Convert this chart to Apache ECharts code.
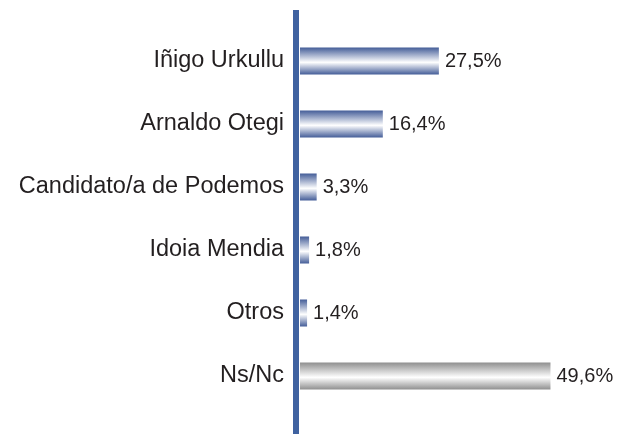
<!DOCTYPE html>
<html>
<head>
<meta charset="utf-8">
<script src="https://cdn.jsdelivr.net/npm/echarts@6/dist/echarts.min.js"></script>
<style>
  html, body { margin: 0; padding: 0; background: #fff; }
  #chart { width: 621px; height: 434px; }
</style>
</head>
<body>
<div id="chart"></div>
<script>
// Candidates, top to bottom, and their share (%)
const candidates = ['Iñigo Urkullu', 'Arnaldo Otegi', 'Candidato/a de Podemos', 'Idoia Mendia', 'Otros', 'Ns/Nc'];
const shares = [27.5, 16.4, 3.3, 1.8, 1.4, 49.6];
// Which rows are drawn in grey instead of blue
const greyRows = ['Ns/Nc'];

function tube(dark, light) {
  return new echarts.graphic.LinearGradient(0, 0, 0, 1, [
    { offset: 0, color: dark },
    { offset: 0.55, color: light },
    { offset: 1, color: dark }
  ]);
}
const blueFill = tube('#445d98', '#ffffff');
const greyFill = tube('#8f8f8f', '#ffffff');

const fmt = v => v.toFixed(1).replace('.', ',') + '%';

const chart = echarts.init(document.getElementById('chart'), null, { renderer: 'canvas' });
chart.setOption({
  animation: false,
  grid: { left: 300, right: 68.5, top: 29.5, bottom: 26.5 },
  xAxis: {
    type: 'value', min: 0, max: 50, show: false
  },
  yAxis: {
    type: 'category',
    inverse: true,
    data: candidates,
    axisLine: { show: false },
    axisTick: { show: false },
    splitLine: { show: false },
    axisLabel: {
      margin: 16,
      color: '#231f20',
      fontFamily: 'Liberation Sans, Arial, sans-serif',
      fontSize: 23.5
    }
  },
  graphic: [{
    type: 'rect',
    shape: { x: 293, y: 10, width: 6, height: 424 },
    style: { fill: '#3f62a0' },
    z: 10
  }],
  series: [{
    type: 'bar',
    barWidth: 27,
    data: shares.map((v, i) => ({
      value: v,
      itemStyle: { color: greyRows.includes(candidates[i]) ? greyFill : blueFill }
    })),
    label: {
      show: true,
      position: 'right',
      distance: 6,
      color: '#231f20',
      fontFamily: 'Liberation Sans, Arial, sans-serif',
      fontSize: 20,
      formatter: p => fmt(p.value)
    }
  }]
});
</script>
</body>
</html>
